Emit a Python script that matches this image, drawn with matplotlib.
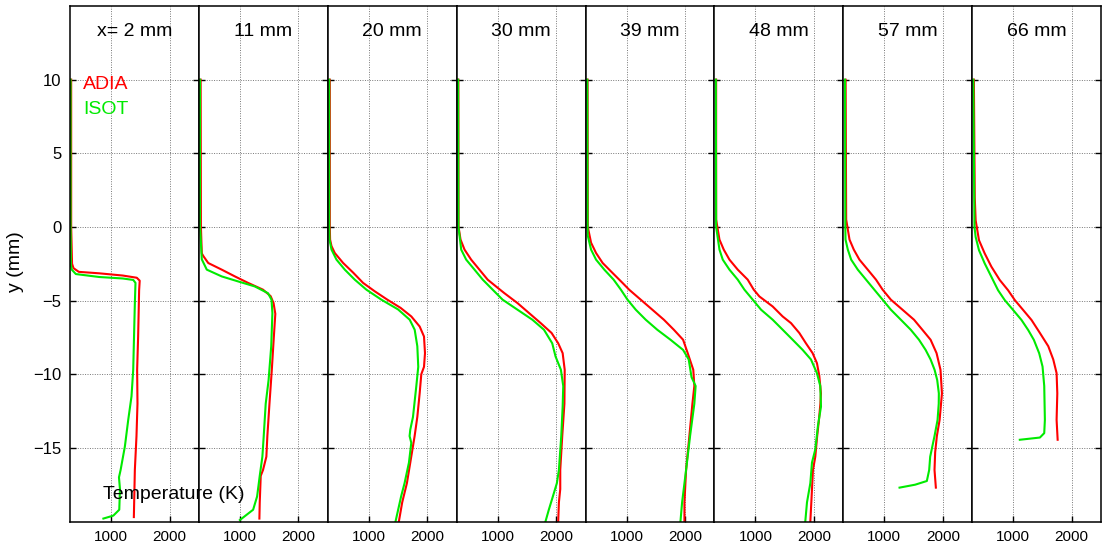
import numpy as np
import matplotlib
matplotlib.use("Agg")
import matplotlib.pyplot as plt

plt.rcParams['font.family'] = ['Liberation Sans', 'DejaVu Sans']

# downstream positions of each profile (mm)
positions = ['x= 2 mm', '11 mm', '20 mm', '30 mm', '39 mm', '48 mm', '57 mm', '66 mm']

# --- x = 2 mm
adia_y_02 = [10, 0, -2.5, -2.8, -3.05, -3.15, -3.3, -3.45, -3.65, -4.3, -7.45, -9.7, -12.0, -14.2, -16.5, -19.7]
adia_T_02 = [320, 320, 335, 360, 450, 800, 1200, 1440, 1490, 1480, 1463, 1446, 1452, 1435, 1407, 1390]
isot_y_02 = [10, 0, -2.6, -2.9, -3.2, -3.4, -3.5, -3.6, -3.8, -5.2, -9.7, -11.5, -13.1, -14.9, -16.5, -17.0, -17.8, -19.2, -19.6, -19.8]
isot_T_02 = [310, 310, 315, 330, 400, 800, 1200, 1380, 1418, 1407, 1379, 1350, 1294, 1237, 1164, 1136, 1153, 1141, 1040, 870]

# --- x = 11 mm
adia_y_11 = [10, 0, -1.8, -2.0, -2.45, -2.9, -3.36, -3.8, -4.26, -4.7, -5.17, -5.9, -7.45, -9.7, -12.0, -14.2, -15.6, -16.5, -16.9, -18.7, -19.8]
adia_T_11 = [330, 335, 350, 380, 460, 690, 915, 1140, 1395, 1525, 1575, 1605, 1580, 1545, 1505, 1469, 1452, 1395, 1356, 1339, 1333]
isot_y_11 = [10, 0, -2.2, -2.9, -3.36, -3.7, -4.04, -4.5, -4.94, -5.85, -8.1, -10.4, -12.0, -14.2, -15.6, -16.9, -18.3, -19.2, -19.9]
isot_T_11 = [320, 320, 350, 435, 690, 970, 1255, 1480, 1540, 1555, 1535, 1490, 1441, 1407, 1384, 1339, 1294, 1226, 1000]

# --- x = 20 mm
adia_y_20 = [10, 0, -0.86, -1.3, -1.77, -2.45, -3.1, -3.8, -4.37, -4.94, -5.5, -6.08, -6.76, -7.44, -8.57, -9.5, -10.0, -11.3, -12.9, -14.2, -16.0, -17.4, -18.7, -20]
adia_T_20 = [335, 335, 340, 364, 420, 563, 733, 903, 1102, 1318, 1545, 1727, 1869, 1943, 1960, 1943, 1897, 1869, 1829, 1783, 1709, 1651, 1571, 1514]
isot_y_20 = [10, 0, -0.86, -1.54, -2.22, -2.9, -3.58, -4.26, -4.94, -5.6, -6.3, -6.98, -8.1, -9.5, -10.8, -12.9, -13.76, -14.2, -14.66, -16.0, -17.4, -18.27, -20]
isot_T_20 = [325, 325, 330, 364, 449, 591, 761, 960, 1216, 1500, 1699, 1784, 1829, 1845, 1812, 1755, 1709, 1697, 1726, 1686, 1611, 1554, 1457]

# --- x = 30 mm
adia_y_30 = [10, 0, -0.86, -1.54, -2.22, -2.9, -3.58, -4.04, -4.49, -5.17, -5.85, -6.53, -7.2, -7.9, -8.57, -9.7, -12.0, -14.2, -16.5, -17.8, -18.7, -20]
adia_T_30 = [330, 333, 367, 435, 548, 689, 830, 972, 1113, 1339, 1537, 1735, 1921, 2034, 2110, 2145, 2140, 2103, 2069, 2069, 2046, 2034]
isot_y_30 = [10, 0, -0.6, -1.54, -2.22, -2.9, -3.58, -4.26, -4.94, -5.62, -6.3, -6.98, -7.9, -8.8, -9.7, -10.8, -12.2, -14.2, -16.5, -17.4, -18.3, -19.2, -20]
isot_T_30 = [325, 330, 350, 378, 463, 605, 746, 915, 1085, 1339, 1593, 1791, 1932, 1989, 2080, 2120, 2110, 2086, 2046, 2011, 1943, 1874, 1817]

# --- x = 39 mm
adia_y_39 = [10, 0, -1.07, -1.77, -2.45, -3.13, -3.8, -4.26, -4.94, -5.62, -6.3, -6.98, -7.66, -8.57, -9.7, -10.8, -12.0, -14.2, -16.5, -18.7, -20]
adia_T_39 = [335, 339, 395, 480, 593, 763, 932, 1045, 1243, 1441, 1638, 1808, 1966, 2045, 2140, 2158, 2125, 2073, 2017, 1989, 1989]
isot_y_39 = [10, 0, -0.6, -1.54, -2.22, -2.9, -3.58, -4.26, -4.94, -5.62, -6.3, -6.98, -7.66, -8.35, -9.0, -10.2, -10.8, -12.0, -14.2, -16.5, -18.7, -20]
isot_T_39 = [330, 335, 339, 395, 480, 621, 780, 904, 1017, 1158, 1328, 1525, 1751, 1966, 2062, 2110, 2180, 2158, 2085, 2017, 1949, 1921]

# --- x = 48 mm
adia_y_48 = [10, 0.5, -0.86, -1.54, -2.22, -2.9, -3.58, -4.26, -4.72, -5.4, -6.08, -6.53, -7.2, -7.9, -8.57, -9.25, -10.1, -11.3, -12.0, -13.1, -14.2, -15.6, -16.5, -18.7, -20]
adia_T_48 = [330, 330, 387, 460, 557, 699, 869, 972, 1068, 1295, 1466, 1608, 1750, 1863, 1977, 2051, 2091, 2119, 2110, 2085, 2055, 2023, 1983, 1955, 1938]
isot_y_48 = [10, 0, -1.54, -2.22, -2.9, -3.58, -4.26, -4.94, -5.62, -6.3, -6.98, -7.66, -8.35, -9.0, -9.93, -10.8, -12.2, -13.5, -15.1, -16.0, -17.4, -18.7, -20]
isot_T_48 = [325, 330, 387, 443, 557, 699, 813, 955, 1097, 1295, 1466, 1636, 1807, 1949, 2051, 2108, 2120, 2068, 2023, 1966, 1938, 1881, 1852]

# --- x = 57 mm
adia_y_57 = [10, 0.5, -0.86, -1.54, -2.22, -2.9, -3.58, -4.26, -4.94, -5.62, -6.3, -6.98, -7.66, -8.57, -9.7, -11.3, -13.1, -14.2, -15.3, -16.5, -17.7]
adia_T_57 = [340, 350, 407, 480, 576, 718, 859, 972, 1113, 1311, 1508, 1650, 1791, 1893, 1960, 1985, 1945, 1898, 1869, 1858, 1881]
isot_y_57 = [10, 0, -0.86, -1.54, -2.22, -2.9, -3.58, -4.26, -4.94, -5.62, -6.3, -6.98, -7.66, -8.35, -9.0, -9.7, -10.4, -11.3, -12.0, -13.1, -14.2, -15.6, -16.5, -17.25, -17.5, -17.7]
isot_T_57 = [330, 335, 339, 378, 435, 548, 689, 830, 972, 1113, 1283, 1452, 1593, 1706, 1791, 1859, 1904, 1932, 1930, 1910, 1858, 1784, 1767, 1727, 1528, 1261]

# --- x = 66 mm
adia_y_66 = [10, 2, 0.45, -0.9, -1.8, -2.7, -3.6, -4.3, -4.97, -5.64, -6.32, -7.2, -8.1, -9.0, -9.93, -11.3, -13.1, -14.45]
adia_T_66 = [330, 345, 360, 417, 515, 629, 771, 914, 1029, 1171, 1314, 1457, 1600, 1685, 1742, 1754, 1742, 1760]
isot_y_66 = [10, 0, -0.68, -1.58, -2.48, -3.39, -4.3, -4.97, -5.64, -6.32, -7.0, -7.67, -8.58, -9.48, -10.8, -13.1, -14.0, -14.3, -14.45]
isot_T_66 = [320, 340, 360, 417, 515, 629, 743, 857, 1000, 1143, 1257, 1354, 1445, 1502, 1531, 1542, 1531, 1457, 1114]

adia = [(adia_T_02, adia_y_02), (adia_T_11, adia_y_11), (adia_T_20, adia_y_20), (adia_T_30, adia_y_30),
        (adia_T_39, adia_y_39), (adia_T_48, adia_y_48), (adia_T_57, adia_y_57), (adia_T_66, adia_y_66)]
isot = [(isot_T_02, isot_y_02), (isot_T_11, isot_y_11), (isot_T_20, isot_y_20), (isot_T_30, isot_y_30),
        (isot_T_39, isot_y_39), (isot_T_48, isot_y_48), (isot_T_57, isot_y_57), (isot_T_66, isot_y_66)]

red = '#ff0000'
green = '#00ea00'

fig, axes = plt.subplots(1, 8, sharey=True, figsize=(11.02, 5.5), dpi=100)
plt.subplots_adjust(left=70/1102, right=1101/1102, bottom=28.5/550, top=544/550, wspace=0)

for i, ax in enumerate(axes):
    ax.plot(adia[i][0], adia[i][1], color=red, lw=1.5)
    ax.plot(isot[i][0], isot[i][1], color=green, lw=1.5)
    ax.set_xlim(300, 2500)
    ax.set_ylim(-20, 15)
    ax.set_xticks([1000, 2000])
    ax.set_yticks([-15, -10, -5, 0, 5, 10])
    ax.grid(True, color='#777777', linestyle=(0, (1, 1.5)), linewidth=0.7)
    ax.tick_params(direction='in', length=4, width=1, labelsize=11, left=True, right=True, pad=6)
    ax.tick_params(axis='y', labelsize=12)
    if i > 0:
        ax.tick_params(labelleft=False)
    for sp in ax.spines.values():
        sp.set_linewidth(1.1)
    ax.text(1400, 13.25, positions[i], ha='center', va='center', fontsize=14)

axes[0].text(526, 9.66, 'ADIA', color=red, fontsize=14, ha='left', va='center')
axes[0].text(526, 8.0, 'ISOT', color=green, fontsize=14, ha='left', va='center')

fig.text(860, -18.2, 'Temperature (K)', transform=axes[0].transData,
         fontsize=14, ha='left', va='center')
fig.text(15/1102, 1 - 262/550, 'y (mm)', rotation=90, fontsize=14, ha='center', va='center')

plt.savefig('out.png', dpi=100)
